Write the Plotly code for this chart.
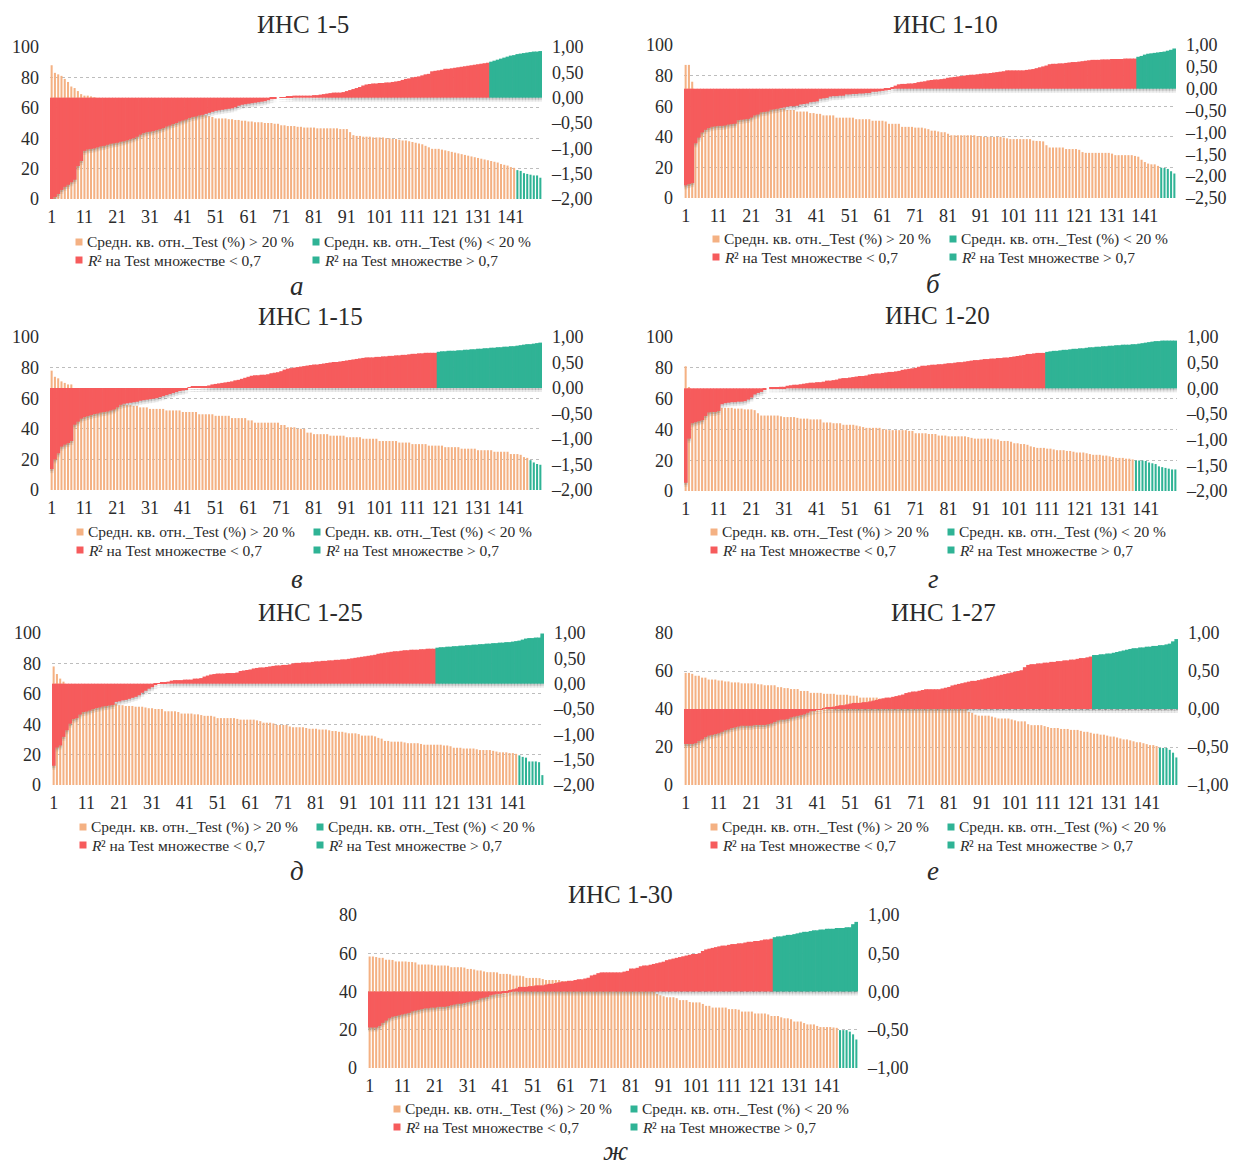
import plotly.graph_objects as go

# ---------------------------------------------------------------- data
CATEGORIES = list(range(1, 151))
X_TICKS = [1, 11, 21, 31, 41, 51, 61, 71, 81, 91, 101, 111, 121, 131, 141]
TITLES = ["ИНС 1-5", "ИНС 1-10", "ИНС 1-15", "ИНС 1-20", "ИНС 1-25", "ИНС 1-27", "ИНС 1-30"]
LETTERS = ["а", "б", "в", "г", "д", "е", "ж"]
# legend labels; the R² items are written as an italic "R" followed by the rest
LEGEND_NAMES = [
    "Средн. кв. отн._Test (%) > 20 %",
    "Средн. кв. отн._Test (%) < 20 %",
    "² на Test множестве < 0,7",
    "² на Test множестве > 0,7",
]
LEGEND_ITALIC_PREFIX = ["", "", "R", "R"]
PCT_LIMIT = 20
R2_LIMIT = 0.7
LEFT_TICKS_100 = [0, 20, 40, 60, 80, 100]
LEFT_TICKS_80 = [0, 20, 40, 60, 80]
RIGHT_TICKS_2 = [-2.0, -1.5, -1.0, -0.5, 0.0, 0.5, 1.0]
RIGHT_TICKS_25 = [-2.5, -2.0, -1.5, -1.0, -0.5, 0.0, 0.5, 1.0]
RIGHT_TICKS_1 = [-1.0, -0.5, 0.0, 0.5, 1.0]

PCT_1_5 = [
    88, 83, 82, 81, 79, 77, 74, 73, 71, 69,
    68, 68, 67.5, 67, 66.5, 66, 65.5, 65, 64.5, 64,
    63.5, 63, 62.5, 62, 61.5, 61, 60.5, 60, 59.5, 59,
    58.5, 58, 57.8, 57.5, 57.2, 57, 56.8, 56.6, 56.4, 56.2,
    56, 56, 55.8, 55.8, 55.6, 55.5, 55.5, 55, 54.5, 54,
    53, 53, 53, 53, 52.5, 52.5, 52, 52, 51.5, 51.5,
    51, 51, 50.5, 50.5, 50.5, 50, 50, 50, 49.5, 49.5,
    48.5, 48.5, 48, 48, 48, 47.5, 47.5, 47, 47, 47,
    47, 46.5, 46.5, 46.5, 46.5, 46.5, 46.5, 46.5, 46, 46,
    46, 44, 42, 41.5, 41.5, 41, 41, 41, 40.5, 40.5,
    40.5, 40.5, 40, 40, 39.5, 39.5, 39, 38.5, 38.5, 38,
    37.5, 37, 36.5, 36, 35, 34, 33, 33, 33, 32.5,
    32, 31.5, 31, 30.5, 30, 29.5, 29, 28.5, 28, 27.5,
    27, 26.5, 26, 25.5, 25, 24.5, 24, 23, 22.5, 22,
    21, 20.5, 19, 18.5, 17, 16.5, 16, 15.5, 15.5, 14,
]
R2_1_5 = [
    -2.00, -1.96, -1.90, -1.82, -1.76, -1.72, -1.67, -1.62, -1.35, -1.25,
    -1.05, -1.02, -1.01, -1.00, -0.98, -0.96, -0.95, -0.93, -0.91, -0.90,
    -0.89, -0.87, -0.86, -0.84, -0.82, -0.80, -0.77, -0.73, -0.70, -0.68,
    -0.67, -0.66, -0.64, -0.62, -0.60, -0.57, -0.55, -0.52, -0.50, -0.47,
    -0.45, -0.43, -0.40, -0.38, -0.37, -0.35, -0.34, -0.32, -0.30, -0.28,
    -0.26, -0.25, -0.24, -0.23, -0.22, -0.21, -0.19, -0.16, -0.14, -0.13,
    -0.12, -0.11, -0.10, -0.09, -0.08, -0.07, -0.05, -0.03, -0.01, 0.00,
    0.01, 0.01, 0.02, 0.02, 0.04, 0.04, 0.04, 0.04, 0.04, 0.04,
    0.05, 0.05, 0.06, 0.07, 0.08, 0.09, 0.10, 0.10, 0.10, 0.11,
    0.13, 0.15, 0.17, 0.19, 0.21, 0.24, 0.26, 0.27, 0.28, 0.28,
    0.29, 0.29, 0.30, 0.30, 0.31, 0.32, 0.33, 0.35, 0.37, 0.38,
    0.40, 0.41, 0.42, 0.44, 0.46, 0.47, 0.52, 0.53, 0.54, 0.55,
    0.57, 0.57, 0.58, 0.59, 0.60, 0.61, 0.62, 0.63, 0.64, 0.65,
    0.66, 0.67, 0.68, 0.69, 0.71, 0.73, 0.75, 0.77, 0.79, 0.81,
    0.83, 0.84, 0.86, 0.87, 0.88, 0.89, 0.90, 0.91, 0.91, 0.92,
]

PCT_1_10 = [
    87, 87, 76, 71, 70, 69.5, 69, 68.5, 68, 67.5,
    67, 66.5, 66, 65.5, 65, 64.5, 64, 63.5, 63, 62.5,
    62, 61.5, 61, 60.5, 60, 59.5, 59, 58.5, 58.5, 58.5,
    58.5, 57.5, 57.5, 57.5, 56.5, 56.5, 56.5, 56.5, 55.5, 55.5,
    55, 55, 54, 54, 54, 54, 52.5, 52.5, 52.5, 52.5,
    52.5, 52.5, 51.5, 51.5, 51.5, 51.5, 51.5, 50.5, 50.5, 50.5,
    50.5, 50, 48.5, 48.5, 48.5, 48.5, 46.5, 46.5, 46.5, 46.5,
    46, 46, 46, 45.5, 45, 44, 44, 43.5, 43, 43,
    42, 41, 41, 41, 41, 41, 41, 41, 41, 40.5,
    40.5, 40, 40, 40, 40, 40, 40, 39.5, 39, 38.5,
    38.5, 38.5, 38.5, 38.5, 38.5, 38.5, 37.5, 37.3, 37.2, 37,
    34.5, 33, 33, 33, 33, 33, 32, 32, 32, 32,
    31.5, 30, 29.5, 29.5, 29.5, 29.5, 29.5, 29.5, 29.5, 29.5,
    29, 28, 28, 28, 28, 28, 28, 27.5, 27, 25,
    23.5, 22.5, 22, 22, 21, 19.8, 19.6, 19, 17.5, 16,
]
R2_1_10 = [
    -2.21, -2.18, -2.16, -1.25, -1.12, -1.00, -0.94, -0.90, -0.87, -0.86,
    -0.85, -0.85, -0.84, -0.82, -0.81, -0.80, -0.72, -0.71, -0.70, -0.69,
    -0.66, -0.61, -0.59, -0.54, -0.53, -0.52, -0.48, -0.47, -0.46, -0.44,
    -0.43, -0.41, -0.40, -0.40, -0.39, -0.36, -0.35, -0.34, -0.31, -0.30,
    -0.29, -0.23, -0.22, -0.21, -0.18, -0.17, -0.17, -0.16, -0.16, -0.13,
    -0.13, -0.12, -0.12, -0.11, -0.11, -0.10, -0.10, -0.07, -0.07, -0.06,
    -0.05, -0.04, -0.02, 0.03, 0.07, 0.10, 0.11, 0.11, 0.12, 0.12,
    0.13, 0.15, 0.16, 0.17, 0.19, 0.20, 0.21, 0.21, 0.22, 0.23,
    0.25, 0.26, 0.27, 0.28, 0.29, 0.30, 0.31, 0.32, 0.32, 0.33,
    0.34, 0.35, 0.35, 0.36, 0.37, 0.38, 0.39, 0.40, 0.42, 0.42,
    0.42, 0.42, 0.42, 0.42, 0.43, 0.44, 0.45, 0.47, 0.49, 0.51,
    0.53, 0.56, 0.57, 0.57, 0.58, 0.58, 0.59, 0.60, 0.61, 0.61,
    0.62, 0.63, 0.64, 0.65, 0.66, 0.66, 0.66, 0.67, 0.67, 0.67,
    0.68, 0.68, 0.68, 0.68, 0.69, 0.69, 0.69, 0.69, 0.73, 0.75,
    0.78, 0.80, 0.81, 0.82, 0.83, 0.84, 0.85, 0.87, 0.89, 0.92,
]

PCT_1_15 = [
    78, 74, 73, 71, 70, 69, 69, 66.5, 66, 65.5,
    65, 64.5, 64, 63.5, 63, 62, 61, 60, 59, 58,
    57, 56.5, 56, 55.5, 55.5, 55, 55, 54, 54, 54,
    53, 53, 53, 53, 53, 52, 52, 52, 52, 52,
    51, 51, 51, 51, 51, 49.5, 49.5, 49.5, 49.5, 49.5,
    48.5, 48.5, 48.5, 48.5, 48.5, 47, 47, 47, 47, 47,
    45.5, 45.5, 44, 44, 44, 44, 44, 44, 44, 44,
    42.5, 42.5, 41, 41, 41, 40, 40, 40, 37.5, 37.5,
    36.5, 36.5, 36.5, 36.5, 36.5, 35.5, 35.5, 35.5, 35.5, 35.5,
    34.5, 34.5, 34.5, 34.5, 34.5, 33.5, 33.5, 33.5, 33.5, 33.5,
    32, 32, 32, 32, 32, 32, 31, 31, 31, 31,
    30, 30, 30, 30, 30, 29, 29, 29, 29, 29,
    28, 28, 28, 28, 28, 27, 27, 27, 27, 27,
    26, 26, 26, 26, 26, 25, 25, 25, 25, 25,
    23.5, 23.5, 23.5, 23, 21.5, 21, 19.5, 18, 17, 16.5,
]
R2_1_15 = [
    -1.59, -1.40, -1.28, -1.15, -1.11, -1.08, -1.04, -0.72, -0.66, -0.60,
    -0.57, -0.55, -0.53, -0.51, -0.50, -0.48, -0.47, -0.46, -0.44, -0.42,
    -0.38, -0.33, -0.31, -0.30, -0.29, -0.28, -0.27, -0.25, -0.24, -0.23,
    -0.22, -0.21, -0.20, -0.18, -0.16, -0.14, -0.12, -0.10, -0.08, -0.06,
    -0.05, -0.03, 0.01, 0.02, 0.02, 0.02, 0.03, 0.03, 0.05, 0.07,
    0.08, 0.09, 0.10, 0.11, 0.12, 0.13, 0.15, 0.16, 0.18, 0.20,
    0.22, 0.24, 0.25, 0.25, 0.26, 0.26, 0.27, 0.29, 0.30, 0.31,
    0.33, 0.36, 0.38, 0.39, 0.40, 0.41, 0.42, 0.43, 0.44, 0.45,
    0.46, 0.46, 0.47, 0.48, 0.49, 0.50, 0.51, 0.51, 0.52, 0.53,
    0.54, 0.55, 0.56, 0.57, 0.58, 0.59, 0.60, 0.60, 0.60, 0.61,
    0.61, 0.62, 0.62, 0.63, 0.63, 0.64, 0.64, 0.65, 0.65, 0.66,
    0.67, 0.67, 0.68, 0.68, 0.69, 0.69, 0.69, 0.69, 0.71, 0.72,
    0.72, 0.73, 0.73, 0.73, 0.74, 0.74, 0.75, 0.75, 0.76, 0.76,
    0.77, 0.77, 0.78, 0.78, 0.79, 0.79, 0.80, 0.80, 0.81, 0.81,
    0.82, 0.82, 0.83, 0.84, 0.85, 0.86, 0.86, 0.87, 0.88, 0.89,
]

PCT_1_20 = [
    81, 67.5, 66, 65, 64, 63, 62, 61, 60, 58,
    56, 54, 54, 54, 54, 53.5, 53.5, 53.5, 53, 53,
    53, 52.5, 50.5, 49, 49, 49, 49, 49, 49, 48.5,
    48, 48, 48, 48, 47.5, 47, 47, 47, 46.5, 46.5,
    46.5, 46.5, 44.5, 44.5, 44.5, 44, 44, 44, 43, 43,
    43, 43, 42.5, 42, 41.5, 41, 41, 41, 41, 41,
    40, 40, 39.5, 39.5, 39.5, 39.5, 39.5, 39.5, 39, 39,
    37.5, 37.5, 37.5, 37.5, 37, 37, 37, 36, 36, 36,
    35.5, 35.5, 35.5, 35.5, 35.5, 35.5, 35, 34.5, 34, 34,
    34, 34, 34, 34, 33.5, 33.5, 32.5, 32.5, 32.5, 32,
    31, 31, 30.5, 30.5, 30, 29, 28.5, 28, 28, 28,
    27.5, 27.5, 27, 26.5, 26.5, 26.5, 26, 26, 25.5, 25,
    25, 25, 24.5, 24, 23.5, 23.5, 23.5, 23, 23, 22.5,
    22, 21.5, 21.5, 21.5, 21, 21, 20.5, 19.8, 19.8, 19.8,
    19.5, 18.5, 18, 17.5, 16, 15.5, 15, 14.5, 14, 14,
]
R2_1_20 = [
    -1.84, -0.98, -0.68, -0.66, -0.64, -0.62, -0.54, -0.47, -0.46, -0.46,
    -0.44, -0.31, -0.29, -0.28, -0.27, -0.27, -0.26, -0.26, -0.25, -0.22,
    -0.18, -0.12, -0.09, -0.07, -0.03, 0.00, 0.02, 0.02, 0.02, 0.03,
    0.03, 0.05, 0.06, 0.07, 0.07, 0.08, 0.09, 0.10, 0.11, 0.11,
    0.12, 0.12, 0.13, 0.15, 0.15, 0.16, 0.17, 0.19, 0.20, 0.20,
    0.21, 0.22, 0.23, 0.24, 0.24, 0.25, 0.27, 0.28, 0.29, 0.29,
    0.30, 0.31, 0.32, 0.32, 0.33, 0.34, 0.36, 0.37, 0.38, 0.39,
    0.40, 0.42, 0.44, 0.44, 0.45, 0.46, 0.46, 0.47, 0.47, 0.48,
    0.49, 0.49, 0.50, 0.51, 0.51, 0.52, 0.53, 0.54, 0.55, 0.55,
    0.56, 0.57, 0.57, 0.58, 0.58, 0.59, 0.59, 0.60, 0.60, 0.61,
    0.62, 0.63, 0.64, 0.65, 0.67, 0.67, 0.68, 0.69, 0.69, 0.69,
    0.71, 0.72, 0.73, 0.73, 0.74, 0.75, 0.75, 0.76, 0.77, 0.77,
    0.78, 0.78, 0.79, 0.80, 0.80, 0.81, 0.81, 0.82, 0.82, 0.83,
    0.83, 0.84, 0.84, 0.85, 0.85, 0.85, 0.86, 0.86, 0.87, 0.88,
    0.89, 0.90, 0.91, 0.92, 0.92, 0.93, 0.93, 0.93, 0.93, 0.93,
]

PCT_1_25 = [
    78, 73, 70, 68, 66, 65.5, 65, 64, 63, 62,
    61, 60, 59, 58, 57, 56, 55, 54, 53.5, 53.5,
    52.5, 52.5, 52, 52, 52, 51.5, 51.5, 51.5, 51, 50.5,
    50.5, 50, 50, 50, 48.5, 48.5, 48.5, 48.5, 48, 47,
    47, 47, 47, 46.5, 46.5, 46, 45.5, 45.5, 45.5, 45,
    44, 44, 44, 44, 44, 44, 43.5, 43, 43, 43,
    43, 43, 42.5, 42, 41, 41, 41, 40.5, 39.5, 39.5,
    39.5, 39.5, 38.5, 38, 38, 38, 38, 37.5, 37, 37,
    37, 36.5, 36.5, 36.5, 36, 35.5, 35.5, 35, 35, 34.5,
    34, 34, 34, 33.5, 32.5, 32.5, 32.5, 32.5, 32, 31,
    30.5, 29, 29, 28.5, 28.5, 28.5, 28.5, 28, 27.5, 27.5,
    27.5, 27.5, 27, 26.5, 26.5, 26.5, 26.5, 26.5, 26.5, 26,
    26, 25.5, 24.5, 24.5, 24.5, 24, 24, 24, 24, 23.5,
    23, 23, 23, 23, 22.5, 22, 21.5, 21.5, 21.5, 21,
    21, 20.5, 19.5, 18.5, 18, 15.5, 15.5, 15.5, 15, 6.5,
]
R2_1_25 = [
    -1.62, -1.26, -1.22, -1.05, -0.92, -0.79, -0.70, -0.68, -0.61, -0.56,
    -0.55, -0.53, -0.50, -0.48, -0.47, -0.45, -0.44, -0.43, -0.42, -0.36,
    -0.35, -0.33, -0.32, -0.30, -0.28, -0.26, -0.23, -0.18, -0.14, -0.10,
    -0.07, -0.03, 0.01, 0.03, 0.03, 0.04, 0.06, 0.07, 0.07, 0.07,
    0.08, 0.08, 0.08, 0.10, 0.10, 0.11, 0.14, 0.16, 0.18, 0.19,
    0.20, 0.20, 0.20, 0.21, 0.21, 0.21, 0.22, 0.25, 0.26, 0.27,
    0.28, 0.30, 0.31, 0.32, 0.32, 0.33, 0.34, 0.35, 0.36, 0.36,
    0.37, 0.37, 0.38, 0.40, 0.41, 0.41, 0.42, 0.42, 0.42, 0.43,
    0.44, 0.44, 0.45, 0.45, 0.46, 0.46, 0.47, 0.47, 0.48, 0.48,
    0.49, 0.50, 0.51, 0.52, 0.53, 0.54, 0.55, 0.56, 0.57, 0.59,
    0.60, 0.61, 0.62, 0.63, 0.64, 0.64, 0.65, 0.66, 0.66, 0.67,
    0.67, 0.67, 0.68, 0.68, 0.69, 0.69, 0.69, 0.71, 0.72, 0.72,
    0.73, 0.73, 0.74, 0.74, 0.75, 0.75, 0.76, 0.76, 0.77, 0.77,
    0.78, 0.78, 0.79, 0.79, 0.80, 0.80, 0.81, 0.81, 0.82, 0.82,
    0.83, 0.84, 0.85, 0.87, 0.89, 0.90, 0.90, 0.91, 0.91, 0.99,
]

PCT_1_27 = [
    59, 59, 58.5, 57.5, 57.5, 56.5, 56.5, 55.5, 55.5, 55.5,
    55, 55, 54.5, 54.5, 54, 54, 54, 53.5, 53.5, 53.5,
    53.5, 53.5, 53, 53, 52.5, 52.5, 52.5, 52.5, 51.5, 51.5,
    51, 51, 50.5, 50.5, 50.5, 49.5, 49.5, 49.5, 48.5, 48.5,
    48.5, 48.5, 48, 48, 48, 48, 47.5, 47.5, 47.5, 47.5,
    47, 47, 47, 46, 46, 46, 46, 46, 46, 45.5,
    45.5, 45, 45, 44.5, 44.5, 44, 44, 43.5, 43.5, 43,
    43, 42.5, 42.5, 42, 42, 42, 41.5, 41.5, 41, 41,
    41, 40.5, 40.5, 40.5, 40.3, 40.2, 38.5, 38, 37, 36.5,
    36.5, 36.5, 36.5, 36, 35.5, 35, 35, 35, 35, 34.5,
    34, 33.5, 33.5, 33.5, 32, 31.5, 31.5, 31.5, 31.5, 31,
    30.5, 30, 30, 30, 29.5, 29.5, 29.5, 29, 29, 29,
    28.5, 28, 28, 27.5, 27, 27, 26.5, 26.5, 26, 25.5,
    25.5, 25, 24.5, 24, 24, 23.5, 23, 22.5, 22.5, 22,
    21.5, 21, 21, 20.5, 19.5, 19.5, 19.5, 18.5, 17, 14.5,
]
R2_1_27 = [
    -0.46, -0.46, -0.46, -0.45, -0.42, -0.40, -0.37, -0.35, -0.34, -0.33,
    -0.32, -0.30, -0.28, -0.27, -0.25, -0.24, -0.23, -0.22, -0.22, -0.22,
    -0.22, -0.21, -0.21, -0.21, -0.21, -0.20, -0.19, -0.17, -0.15, -0.14,
    -0.14, -0.13, -0.11, -0.10, -0.09, -0.08, -0.07, -0.05, -0.03, -0.02,
    -0.01, -0.005, 0.01, 0.02, 0.02, 0.03, 0.04, 0.05, 0.05, 0.06,
    0.07, 0.08, 0.08, 0.08, 0.09, 0.09, 0.10, 0.11, 0.12, 0.13,
    0.14, 0.15, 0.15, 0.16, 0.17, 0.18, 0.19, 0.21, 0.22, 0.23,
    0.23, 0.24, 0.25, 0.26, 0.26, 0.26, 0.26, 0.26, 0.27, 0.28,
    0.29, 0.31, 0.32, 0.33, 0.34, 0.35, 0.36, 0.37, 0.37, 0.38,
    0.39, 0.40, 0.41, 0.42, 0.43, 0.44, 0.45, 0.46, 0.47, 0.48,
    0.49, 0.50, 0.51, 0.55, 0.58, 0.59, 0.59, 0.60, 0.60, 0.61,
    0.61, 0.62, 0.62, 0.63, 0.63, 0.64, 0.64, 0.65, 0.65, 0.66,
    0.67, 0.67, 0.68, 0.69, 0.71, 0.71, 0.72, 0.72, 0.73, 0.73,
    0.74, 0.75, 0.76, 0.77, 0.78, 0.79, 0.80, 0.80, 0.81, 0.81,
    0.82, 0.82, 0.83, 0.83, 0.84, 0.84, 0.85, 0.86, 0.89, 0.92,
]

PCT_1_30 = [
    58.3, 58.3, 58, 57.6, 57.6, 56.6, 56.6, 56.5, 55.7, 55.7,
    55.7, 55.7, 55.5, 55.4, 55.2, 54.1, 54.1, 54.1, 54.1, 54,
    53.6, 53.6, 53.6, 53.6, 53.5, 52.7, 52.7, 52.7, 52.7, 52.5,
    51.8, 51.8, 51.5, 51, 51, 50.5, 50.1, 50.1, 50.1, 50,
    49.2, 49.2, 49.2, 49, 48.3, 48.3, 48.3, 48, 47.1, 47.1,
    47.1, 47.1, 47, 46.5, 46, 46, 46, 46, 46, 45.5,
    45.5, 45, 45, 44.5, 44.5, 44, 44, 43.5, 43.5, 43,
    43, 42.5, 42.5, 42, 42, 42, 41.5, 41.5, 41, 41,
    41, 41, 40.5, 40.5, 40.5, 40.5, 40.3, 40.2, 38.7, 38,
    37.5, 37, 37, 37, 36.5, 35.5, 35.5, 35.5, 34.5, 34.3,
    34.3, 34.3, 33.5, 32.5, 32.5, 31.6, 31.6, 31.6, 31.6, 31.6,
    30.8, 30.8, 30.8, 30.5, 29.5, 29.5, 29.5, 29.5, 28.5, 28.5,
    28.5, 28.5, 28, 27.2, 27.2, 27.2, 26.5, 26, 26, 25.5,
    24.3, 24.3, 24.3, 23.5, 22.8, 22.8, 22.8, 22, 21.4, 21.4,
    21.4, 21.4, 21.2, 21, 19.8, 19.8, 19.8, 19, 17.6, 14.9,
]
R2_1_30 = [
    -0.47, -0.47, -0.47, -0.45, -0.41, -0.38, -0.35, -0.33, -0.32, -0.31,
    -0.30, -0.29, -0.28, -0.26, -0.25, -0.24, -0.23, -0.22, -0.22, -0.21,
    -0.21, -0.20, -0.20, -0.20, -0.19, -0.18, -0.17, -0.16, -0.16, -0.15,
    -0.14, -0.13, -0.12, -0.11, -0.09, -0.08, -0.07, -0.05, -0.04, -0.03,
    -0.03, -0.02, -0.01, 0.02, 0.03, 0.04, 0.06, 0.06, 0.06, 0.07,
    0.07, 0.08, 0.08, 0.08, 0.09, 0.10, 0.10, 0.11, 0.12, 0.13,
    0.13, 0.14, 0.14, 0.15, 0.16, 0.16, 0.17, 0.18, 0.21, 0.22,
    0.24, 0.25, 0.25, 0.25, 0.25, 0.25, 0.25, 0.25, 0.26, 0.27,
    0.30, 0.30, 0.31, 0.33, 0.34, 0.34, 0.35, 0.36, 0.37, 0.38,
    0.39, 0.41, 0.42, 0.43, 0.44, 0.45, 0.46, 0.47, 0.48, 0.49,
    0.49, 0.50, 0.53, 0.55, 0.56, 0.57, 0.58, 0.59, 0.60, 0.60,
    0.61, 0.62, 0.62, 0.63, 0.63, 0.64, 0.65, 0.65, 0.66, 0.66,
    0.67, 0.68, 0.68, 0.69, 0.71, 0.72, 0.72, 0.73, 0.74, 0.74,
    0.75, 0.76, 0.77, 0.78, 0.78, 0.79, 0.80, 0.80, 0.81, 0.81,
    0.82, 0.82, 0.82, 0.83, 0.83, 0.83, 0.84, 0.84, 0.88, 0.91,
]

PCT_SERIES = [PCT_1_5, PCT_1_10, PCT_1_15, PCT_1_20, PCT_1_25, PCT_1_27, PCT_1_30]
R2_SERIES = [R2_1_5, R2_1_10, R2_1_15, R2_1_20, R2_1_25, R2_1_27, R2_1_30]
for s in PCT_SERIES + R2_SERIES:
    assert len(s) == len(CATEGORIES), len(s)

# ---------------------------------------------------------------- styling / layout
W, H = 1234, 1166
FONT = "Liberation Serif, Times New Roman, serif"
C_ORANGE = "#F4B183"
C_RED = "#F65B5C"
C_GREEN = "#2FB395"
C_TEXT = "#2b2b2b"
LEGEND_COLORS = [C_ORANGE, C_GREEN, C_RED, C_GREEN]
LEGEND_SIZE = 15.5

# plot-area boxes in pixels: (left, right, top, bottom)
BOXES = [
    (50, 542, 47, 199), (684, 1176, 45, 198),
    (50, 542, 337, 490), (684, 1177, 337, 491),
    (52, 544, 633, 785), (684, 1178, 633, 785),
    (368, 858, 915, 1068),
]
LEFT_MAX = [100, 100, 100, 100, 100, 80, 80]
RIGHT_TICKS = [RIGHT_TICKS_2, RIGHT_TICKS_25, RIGHT_TICKS_2, RIGHT_TICKS_2,
               RIGHT_TICKS_2, RIGHT_TICKS_1, RIGHT_TICKS_1]
TITLE_POS = [(303, 25), (945, 24), (310, 316), (937, 315), (310, 612), (943, 612), (620, 894)]
LETTER_POS = [(297, 286), (933, 284), (297, 579), (933, 579), (297, 871), (933, 871), (615, 1151)]
# legend: symbol x of the two columns, y of the two rows
LEGEND_POS = [
    ((79, 316), (242, 260)), ((716, 953), (239, 257)),
    ((80, 317), (532, 550)), ((714, 951), (532, 550)),
    ((83, 320), (827, 845)), ((714, 951), (827, 845)),
    ((397, 634), (1109, 1127)),
]


def px_x(p):
    return p / W


def px_y(p):
    return 1 - p / H


def fmt_right(v):
    return f"{v:.2f}".replace(".", ",").replace("-", "–")


def note(text, x, y, size, xanchor="left", style="normal"):
    return dict(text=text, x=px_x(x), y=px_y(y), xref="paper", yref="paper",
                xanchor=xanchor, yanchor="middle", showarrow=False,
                font=dict(size=size, family=FONT, color=C_TEXT, style=style))


fig = go.Figure()
layout = dict(
    width=W, height=H, margin=dict(l=0, r=0, t=0, b=0, pad=0, autoexpand=False),
    autosize=False, template="none", showlegend=False,
    paper_bgcolor="white", plot_bgcolor="white",
    barmode="overlay", font=dict(family=FONT, color=C_TEXT),
    annotations=[], shapes=[],
)

for i in range(7):
    n = i + 1
    xname = "x" if n == 1 else f"x{n}"
    yl_n, yr_n = 2 * i + 1, 2 * i + 2
    yl = "y" if yl_n == 1 else f"y{yl_n}"
    yr = f"y{yr_n}"
    pct, r2 = PCT_SERIES[i], R2_SERIES[i]
    rt = RIGHT_TICKS[i]
    l, r, t, b = BOXES[i]

    pct_hi = [v if v > PCT_LIMIT else None for v in pct]
    pct_lo = [v if v <= PCT_LIMIT else None for v in pct]
    r2_lo = [v if v < R2_LIMIT else None for v in r2]
    r2_hi = [v if v >= R2_LIMIT else None for v in r2]

    fig.add_trace(go.Bar(x=CATEGORIES, y=pct_hi, width=0.62, marker_color=C_ORANGE,
                         marker_line_width=0, name="Средн. кв. отн._Test (%) > 20 %",
                         xaxis=xname, yaxis=yl))
    fig.add_trace(go.Bar(x=CATEGORIES, y=pct_lo, width=0.62, marker_color=C_GREEN,
                         marker_line_width=0, name="Средн. кв. отн._Test (%) < 20 %",
                         xaxis=xname, yaxis=yl))

    # soft drop shadow under the R2 bars (same data, shifted a few pixels down)
    units_per_px = (rt[-1] - rt[0]) / (b - t)
    for off, alpha in ((4, 0.10), (2, 0.16)):
        d = off * units_per_px
        fig.add_trace(go.Bar(x=CATEGORIES, y=[abs(v) for v in r2],
                             base=[min(0, v) - d for v in r2], width=1.2,
                             marker_color=f"rgba(60,60,60,{alpha})", marker_line_width=0,
                             hoverinfo="skip", xaxis=xname, yaxis=yr))

    fig.add_trace(go.Bar(x=CATEGORIES, y=r2_lo, width=1.2, marker_color=C_RED,
                         marker_line_width=0, name="R² на Test множестве < 0,7",
                         xaxis=xname, yaxis=yr))
    fig.add_trace(go.Bar(x=CATEGORIES, y=r2_hi, width=1.2, marker_color=C_GREEN,
                         marker_line_width=0, name="R² на Test множестве > 0,7",
                         xaxis=xname, yaxis=yr))

    left_ticks = LEFT_TICKS_100 if LEFT_MAX[i] == 100 else LEFT_TICKS_80
    xkey = "xaxis" if n == 1 else f"xaxis{n}"
    ylkey = "yaxis" if yl_n == 1 else f"yaxis{yl_n}"
    yrkey = f"yaxis{yr_n}"
    layout[xkey] = dict(
        domain=[px_x(l), px_x(r)], anchor=yl, range=[0.5, 150.5], automargin=False,
        tickmode="array", tickvals=X_TICKS, ticktext=[str(v) for v in X_TICKS],
        showgrid=False, zeroline=False, showline=False, ticks="",
        ticklabelstandoff=5, tickfont=dict(size=18, family=FONT, color=C_TEXT),
    )
    layout[ylkey] = dict(
        domain=[px_y(b), px_y(t)], anchor=xname, range=[0, LEFT_MAX[i]], automargin=False,
        tickmode="array", tickvals=left_ticks, ticktext=[str(v) for v in left_ticks],
        showgrid=True, gridcolor="#BDBDBD", griddash="dot", gridwidth=1,
        zeroline=False, showline=False, ticks="", ticklabelstandoff=10,
        tickfont=dict(size=18, family=FONT, color=C_TEXT),
    )
    layout[yrkey] = dict(
        overlaying=yl, side="right", anchor=xname, range=[rt[0], rt[-1]], automargin=False,
        tickmode="array", tickvals=rt, ticktext=[fmt_right(v) for v in rt],
        showgrid=False, zeroline=False, showline=False, ticks="", ticklabelstandoff=9,
        tickfont=dict(size=18, family=FONT, color=C_TEXT),
    )

    # legend (2 columns x 2 rows): small colour square + label
    (cx1, cx2), (ry1, ry2) = LEGEND_POS[i]
    spots = [(cx1, ry1), (cx2, ry1), (cx1, ry2), (cx2, ry2)]
    for j in range(4):
        sx, sy = spots[j]
        layout["shapes"].append(dict(
            type="rect", xref="paper", yref="paper",
            x0=px_x(sx - 3.5), x1=px_x(sx + 3.5), y0=px_y(sy + 3.5), y1=px_y(sy - 3.5),
            fillcolor=LEGEND_COLORS[j], line=dict(width=0)))
        tx0 = sx + 6
        if LEGEND_ITALIC_PREFIX[j]:
            layout["annotations"].append(
                note(LEGEND_ITALIC_PREFIX[j], tx0, sy, LEGEND_SIZE, style="italic"))
            tx0 += 0.62 * LEGEND_SIZE
        layout["annotations"].append(note(LEGEND_NAMES[j], tx0, sy, LEGEND_SIZE))

    tx, ty = TITLE_POS[i]
    layout["annotations"].append(note(TITLES[i], tx, ty, 25, xanchor="center"))
    lx, ly = LETTER_POS[i]
    layout["annotations"].append(note(LETTERS[i], lx, ly, 27, xanchor="center", style="italic"))

fig.update_layout(**layout)
fig.write_html("out.html", config={"displayModeBar": False},
               post_script="document.body.style.margin='0';")
